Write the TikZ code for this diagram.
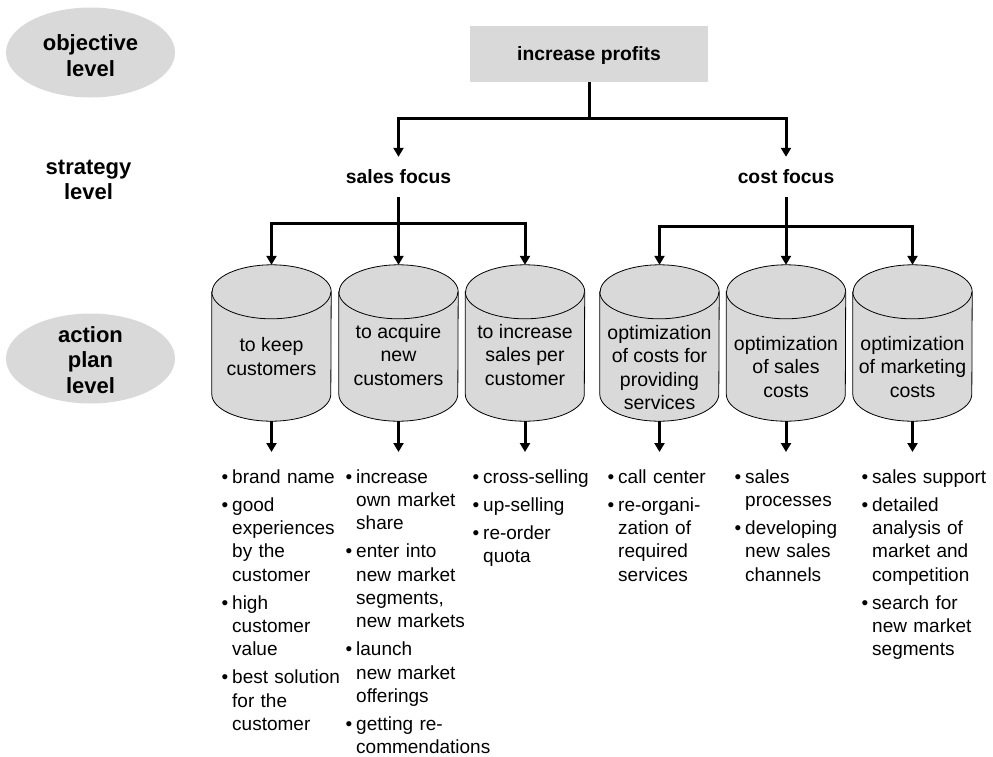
\documentclass[tikz,border=0pt]{standalone}
\usepackage{fontspec}
\setmainfont{Liberation Sans}
\usetikzlibrary{arrows.meta,shapes.geometric}
\definecolor{boxgray}{HTML}{D9D9D9}
\newcommand\bul[1]{\hangindent=10.5pt\hangafter=1\noindent\makebox[10.5pt][l]{\textbullet}\rule{0pt}{14pt}#1\par}
\newcommand\cylshape[1]{%
  \path[cylbody] ([yshift=-27pt]#1.north west) -- ([yshift=27pt]#1.south west)
    arc[start angle=180,end angle=360,x radius=59.5pt,y radius=27pt]
    -- ([yshift=-27pt]#1.north east)
    arc[start angle=0,end angle=180,x radius=59.5pt,y radius=27pt] -- cycle;
  \draw[cylline] ([yshift=-27pt]#1.north west)
    arc[start angle=180,end angle=360,x radius=59.5pt,y radius=27pt];}
\begin{document}
\begin{tikzpicture}[x=1pt,y=-1pt,
  conn/.style={line width=3pt},
  arr/.style={line width=3pt,-{Triangle[width=10pt,length=9pt]}},
  lvl/.style={font=\fontsize{22}{25.5}\selectfont\bfseries, align=center, inner sep=0pt},
  lvlell/.style={ellipse, fill=boxgray, minimum width=169pt, minimum height=90pt, inner sep=0pt},
  strat/.style={font=\fontsize{19.3}{23}\selectfont\bfseries, text height=13.5pt, text depth=0pt, inner xsep=2pt, inner ysep=13.25pt},
  topbox/.style={fill=boxgray, minimum width=238pt, minimum height=56pt, inner sep=0pt, font=\fontsize{19.3}{23}\selectfont\bfseries, text height=13.5pt, text depth=0pt},
  cylnode/.style={minimum width=119pt, minimum height=156pt, inner sep=0pt},
  cyltext/.style={font=\fontsize{19.5}{23.5}\selectfont, align=center, inner sep=0pt},
  cylbody/.style={fill=boxgray, draw=black, line width=0.8pt},
  cylline/.style={draw=black, line width=0.8pt},
  list/.style={font=\fontsize{19}{23.3}\selectfont, text width=160pt, anchor=north west, inner sep=0pt}
]
\useasboundingbox (0,0) rectangle (993,756);

% level labels
\node[lvlell] (objell) at (90.5,52.5) {};
\node[lvl] (obj) at (90.5,55.5) {objective\\level};
\node[lvl] (str) at (88.5,180) {strategy\\level};
\node[lvlell] (actell) at (90.5,358.5) {};
\node[lvl] (act) at (90.5,360) {action\\plan\\level};

% objective and strategies
\node[topbox] (ip) at (589,54) {increase profits};
\node[strat] (sf) at (398.5,177) {sales focus};
\node[strat] (cf) at (786,177) {cost focus};

\coordinate (j1) at (589,118);
\draw[conn] (ip.south) -- (j1);
\draw[arr] (j1) -| (sf.north);
\draw[arr] (j1) -| (cf.north);

% cylinders
\node[cylnode] (c1) at (271.5,343) {};
\node[cylnode] (c2) at (398.5,343) {};
\node[cylnode] (c3) at (525,343) {};
\node[cylnode] (c4) at (659.5,343) {};
\node[cylnode] (c5) at (786,343) {};
\node[cylnode] (c6) at (912.5,343) {};
\cylshape{c1}\cylshape{c2}\cylshape{c3}\cylshape{c4}\cylshape{c5}\cylshape{c6}

\node[cyltext] (t1) at (271.5,356.5) {to keep\\customers};
\node[cyltext] (t2) at (398.5,355) {to acquire\\new\\customers};
\node[cyltext] (t3) at (525,355) {to increase\\sales per\\customer};
\node[cyltext] (t4) at (659.5,367.5) {optimization\\of costs for\\providing\\services};
\node[cyltext] (t5) at (786,367) {optimization\\of sales\\costs};
\node[cyltext] (t6) at (912.5,367) {optimization\\of marketing\\costs};

\coordinate (j2) at (398.5,223);
\draw[conn] (sf.south) -- (j2);
\draw[arr] (j2) -| (c1.north);
\draw[arr] (j2) -- (c2.north);
\draw[arr] (j2) -| (c3.north);

\coordinate (j3) at (786,226);
\draw[conn] (cf.south) -- (j3);
\draw[arr] (j3) -| (c4.north);
\draw[arr] (j3) -- (c5.north);
\draw[arr] (j3) -| (c6.north);

% arrows to lists
\coordinate (e1) at (271.5,452);
\coordinate (e2) at (398.5,452);
\coordinate (e3) at (525,452);
\coordinate (e4) at (659.5,452);
\coordinate (e5) at (786,452);
\coordinate (e6) at (912.5,452);
\draw[arr] (c1.south) -- (e1);
\draw[arr] (c2.south) -- (e2);
\draw[arr] (c3.south) -- (e3);
\draw[arr] (c4.south) -- (e4);
\draw[arr] (c5.south) -- (e5);
\draw[arr] (c6.south) -- (e6);

% lists
\node[list] (l1) at (221.5,469) {\parskip=4.7pt%
  \bul{brand name}%
  \bul{good\newline experiences\newline by the\newline customer}%
  \bul{high\newline customer\newline value}%
  \bul{best solution\newline for the\newline customer}};
\node[list] (l2) at (345.5,469) {\parskip=4.7pt%
  \bul{increase\newline own market\newline share}%
  \bul{enter into\newline new market\newline segments,\newline new markets}%
  \bul{launch\newline new market\newline offerings}%
  \bul{getting re-\newline commendations}};
\node[list] (l3) at (472.5,469) {\parskip=4.7pt%
  \bul{cross-selling}%
  \bul{up-selling}%
  \bul{re-order\newline quota}};
\node[list] (l4) at (607.5,469) {\parskip=4.7pt%
  \bul{call center}%
  \bul{re-organi-\newline zation of\newline required\newline services}};
\node[list] (l5) at (734.5,469) {\parskip=4.7pt%
  \bul{sales\newline processes}%
  \bul{developing\newline new sales\newline channels}};
\node[list] (l6) at (861.5,469) {\parskip=4.7pt%
  \bul{sales support}%
  \bul{detailed\newline analysis of\newline market and\newline competition}%
  \bul{search for\newline new market\newline segments}};
\end{tikzpicture}
\end{document}
